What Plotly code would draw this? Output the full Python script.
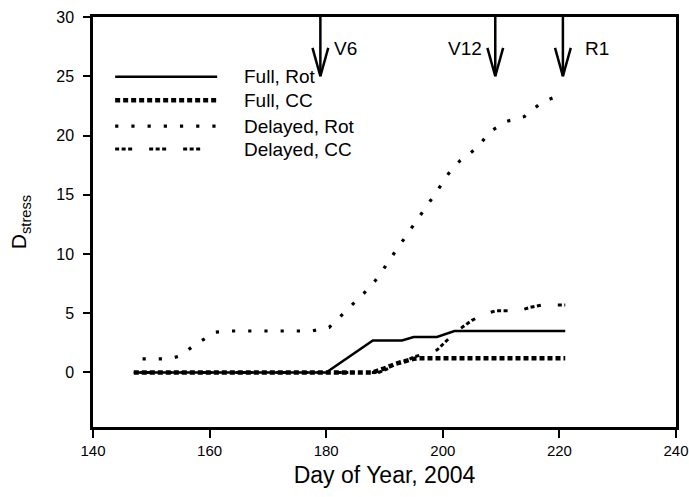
import plotly.graph_objects as go

# ---- data ----
series_names = ["Full, Rot", "Full, CC", "Delayed, Rot", "Delayed, CC"]

full_rot_day = [147, 180, 188, 193, 195, 199, 202, 221]
full_rot_val = [0, 0, 2.7, 2.7, 3.0, 3.0, 3.5, 3.5]

full_cc_day = [147, 188, 190, 192, 195, 196, 221]
full_cc_val = [0, 0, 0.35, 0.75, 1.15, 1.2, 1.2]

del_rot_day = [148.5, 153, 155, 157.5, 159, 161, 163, 177.5, 180.5, 183.5, 186.5,
               188.5, 189, 191, 193, 195, 197, 199, 201, 203, 206, 208, 211, 214,
               217, 219, 221]
del_rot_val = [1.15, 1.15, 1.4, 2.35, 2.8, 3.4, 3.5, 3.5, 3.8, 5.25, 6.7,
               7.8, 8.1, 9.6, 11.0, 12.4, 13.8, 15.3, 16.8, 17.9, 19.0, 20.3, 21.2, 21.6,
               22.8, 23.2, 23.2]

del_cc_day = [147, 189, 191, 193, 195, 197, 199, 201, 203, 205, 207, 209, 213, 215, 217, 221]
del_cc_val = [0, 0, 0.4, 0.8, 1.3, 1.6, 1.9, 2.85, 3.7, 4.4, 4.9, 5.2, 5.2, 5.5, 5.7, 5.7]

stage_days = [179, 209, 220.6]
stage_labels = ["V6", "V12", "R1"]

x_ticks = [140, 160, 180, 200, 220, 240]
y_ticks = [0, 5, 10, 15, 20, 25, 30]

# ---- styles ----
stage_anchor = ["left", "right", "left"]
stage_shift = [12, -11, 20]

styles = {
    "Full, Rot": dict(width=2.5, dash="solid"),
    "Full, CC": dict(width=4.5, dash="5px,3px"),
    "Delayed, Rot": dict(width=3.2, dash="3.2px,13px"),
    "Delayed, CC": dict(width=3, dash="4px,2.5px,4px,2.5px,4px,17px"),
}
data = {
    "Full, Rot": (full_rot_day, full_rot_val),
    "Full, CC": (full_cc_day, full_cc_val),
    "Delayed, Rot": (del_rot_day, del_rot_val),
    "Delayed, CC": (del_cc_day, del_cc_val),
}

FONT = "Liberation Sans, Arial, sans-serif"
fig = go.Figure()
for name in ["Delayed, CC", "Delayed, Rot", "Full, Rot", "Full, CC"]:
    xs, ys = data[name]
    fig.add_trace(go.Scatter(x=xs, y=ys, mode="lines", name=name,
                             line=dict(color="black", width=styles[name]["width"],
                                       dash=styles[name]["dash"]),
                             showlegend=False))

shapes = []
annotations = []

# growth stage arrows
Y_TOP, Y_TIP, HEAD_H, HEAD_W = 30, 25, 2.4, 1.35
for d, lab, anc, sh in zip(stage_days, stage_labels, stage_anchor, stage_shift):
    for (x0, y0, x1, y1) in [(d, Y_TOP, d, Y_TIP),
                             (d - HEAD_W, Y_TIP + HEAD_H, d, Y_TIP),
                             (d + HEAD_W, Y_TIP + HEAD_H, d, Y_TIP)]:
        shapes.append(dict(type="line", xref="x", yref="y", x0=x0, y0=y0, x1=x1, y1=y1,
                           line=dict(color="black", width=2.5)))
    annotations.append(dict(x=d, y=27.3, xref="x", yref="y", text=lab, showarrow=False,
                            xanchor=anc, xshift=sh,
                            font=dict(size=19, family=FONT, color="black")))

# manual legend
leg_x0, leg_x1, leg_tx = 0.038, 0.213, 0.256
leg_rows = [0.854, 0.797, 0.734, 0.678]
for name, yy in zip(series_names, leg_rows):
    shapes.append(dict(type="line", xref="paper", yref="paper", x0=leg_x0, x1=leg_x1,
                       y0=yy, y1=yy,
                       line=dict(color="black", width=styles[name]["width"],
                                 dash=styles[name]["dash"])))
    annotations.append(dict(x=leg_tx, y=yy, xref="paper", yref="paper", text=name,
                            showarrow=False, xanchor="left", yanchor="middle",
                            font=dict(size=19, family=FONT, color="black")))

fig.update_layout(
    width=689, height=497,
    margin=dict(l=93, r=13, t=17, b=70, autoexpand=False),
    plot_bgcolor="white", paper_bgcolor="white",
    font=dict(family=FONT, color="black"),
    showlegend=False,
    shapes=shapes, annotations=annotations,
    xaxis=dict(range=[140, 240], tickvals=x_ticks, ticks="outside", ticklen=8, tickwidth=2,
               tickcolor="black", showline=True, linecolor="black", linewidth=2.5,
               mirror=True, showgrid=False, zeroline=False, automargin=False,
               tickfont=dict(size=15, family=FONT),
               title=dict(text="Day of Year, 2004", font=dict(size=23, family=FONT),
                          standoff=10)),
    yaxis=dict(range=[-4.6, 30], tickvals=y_ticks, ticks="outside", ticklen=7, tickwidth=2,
               tickcolor="black", showline=True, linecolor="black", linewidth=2.5,
               mirror=True, showgrid=False, zeroline=False, automargin=False,
               tickfont=dict(size=16, family=FONT), ticklabelstandoff=6,
               title=dict(text="D<sub>stress</sub>", font=dict(size=21, family=FONT),
                          standoff=24)),
)

fig.write_html("out.html")
